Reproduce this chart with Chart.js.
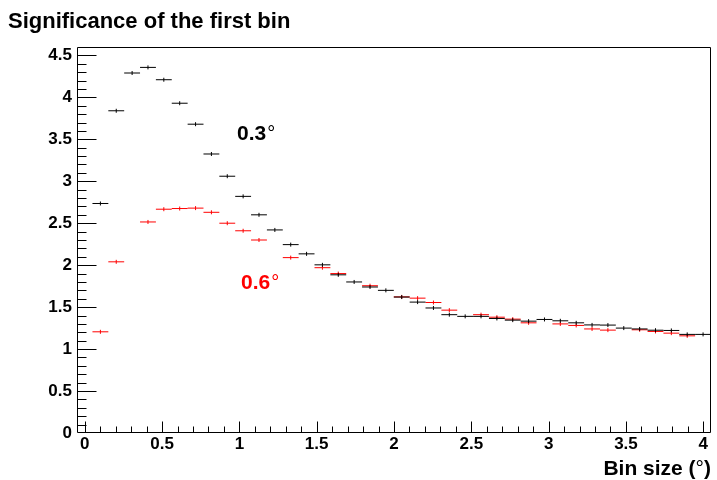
<!DOCTYPE html>
<html>
<head>
<meta charset="utf-8">
<script src="https://cdn.jsdelivr.net/npm/chart.js@4/dist/chart.umd.min.js"></script>
<style>
html,body{margin:0;padding:0;background:#fff;}
#wrap{width:717px;height:480px;position:relative;}
</style>
</head>
<body>
<div id="wrap"><canvas id="c" width="717" height="480"></canvas></div>
<script>
// Bin centres (histogram of 39 bins between 0.05 and 4.05)
const binCenters = [0.1013,0.2038,0.3064,0.4090,0.5115,0.6141,0.7167,0.8192,0.9218,1.0244,
  1.1269,1.2295,1.3321,1.4346,1.5372,1.6397,1.7423,1.8449,1.9474,2.0500,
  2.1526,2.2551,2.3577,2.4603,2.5628,2.6654,2.7679,2.8705,2.9731,3.0756,
  3.1782,3.2808,3.3833,3.4859,3.5885,3.6910,3.7936,3.8962,3.9987];
const binHalfWidth = 0.0513;

// Significance of the first bin, 0.3 deg source
const sig03 = [2.735,3.84,4.29,4.357,4.21,3.93,3.68,3.325,3.06,2.82,
  2.60,2.42,2.245,2.135,2.004,1.885,1.80,1.74,1.70,1.62,
  1.56,1.49,1.41,1.39,1.39,1.365,1.345,1.333,1.353,1.337,
  1.313,1.288,1.286,1.25,1.24,1.225,1.222,1.175,1.175];
// Significance of the first bin, 0.6 deg source (null = not visible / hidden under the 0.3 deg marker)
const sig06 = [1.206,2.04,null,2.515,2.667,2.675,2.68,2.63,2.50,2.41,
  2.30,null,2.09,null,1.97,1.90,null,1.755,null,1.622,
  1.607,1.555,1.464,null,1.41,1.38,1.357,1.313,null,1.30,
  1.282,1.24,1.226,null,1.23,1.21,1.19,1.158,null];

const xTickValues = [0,0.5,1,1.5,2,2.5,3,3.5,4];
const yTickValues = [0,0.5,1,1.5,2,2.5,3,3.5,4,4.5];

const titleText = 'Significance of the first bin';
const xTitleText = ['Bin size (', '°', ')'];
const labels = [
  {num:'0.3', color:'#000000', x:0.985, y:3.49},
  {num:'0.6', color:'#ff0000', x:1.011, y:1.714}
];

const FONT = "'Liberation Sans', Arial, Helvetica, sans-serif";

function barSegments(vals){
  const out = [];
  vals.forEach((v,i)=>{
    if (v === null) return;
    out.push({x: binCenters[i]-binHalfWidth, y: v});
    out.push({x: binCenters[i]+binHalfWidth, y: v});
    out.push({x: binCenters[i]+binHalfWidth, y: null});
  });
  return out;
}
function centerPoints(vals){
  const out = [];
  vals.forEach((v,i)=>{ if (v !== null) out.push({x: binCenters[i], y: v}); });
  return out;
}

const decor = {
  id: 'rootDecor',
  afterDraw(chart){
    const {ctx, chartArea: a, scales} = chart;
    const xs = scales.x, ys = scales.y;
    ctx.save();
    const L = Math.round(a.left)+0.5, R = Math.round(a.right)-0.5;
    const T = Math.round(a.top)+0.5, B = Math.round(a.bottom)-0.5;
    ctx.strokeStyle = '#000'; ctx.lineWidth = 1;
    ctx.beginPath();
    ctx.rect(L, T, R-L, B-T);
    ctx.stroke();
    // y ticks (inward)
    ctx.beginPath();
    for (let i=1;i<=45;i++){
      const v = i/10;
      const p = Math.round(ys.getPixelForValue(v))+0.5;
      const len = (i%5===0) ? 19 : 9;
      ctx.moveTo(L, p); ctx.lineTo(L+len, p);
    }
    // x ticks (inward)
    for (let i=0;i<=40;i++){
      const v = i/10;
      const p = Math.round(xs.getPixelForValue(v))+0.5;
      const len = (i%5===0) ? 11 : 6;
      ctx.moveTo(p, B); ctx.lineTo(p, B-len);
    }
    ctx.stroke();

    // title
    ctx.fillStyle = '#000';
    ctx.textBaseline = 'alphabetic';
    ctx.textAlign = 'left';
    ctx.font = 'bold 22px ' + FONT;
    ctx.fillText(titleText, 8, 28);

    // x-axis title (right aligned)
    const fB = 'bold 21px ' + FONT, fN = '21px ' + FONT;
    ctx.font = fB; const w1 = ctx.measureText(xTitleText[0]).width;
    const w3 = ctx.measureText(xTitleText[2]).width;
    ctx.font = fN; const w2 = ctx.measureText(xTitleText[1]).width;
    let xx = 711 - (w1+w2+w3);
    ctx.font = fB; ctx.fillText(xTitleText[0], xx, 475); xx += w1;
    ctx.font = fN; ctx.fillText(xTitleText[1], xx, 475); xx += w2;
    ctx.font = fB; ctx.fillText(xTitleText[2], xx, 475);

    // series labels
    labels.forEach(l=>{
      const px = xs.getPixelForValue(l.x), py = ys.getPixelForValue(l.y);
      ctx.fillStyle = l.color;
      ctx.font = 'bold 21px ' + FONT;
      ctx.fillText(l.num, px, py);
      const w = ctx.measureText(l.num).width;
      ctx.font = '20px ' + FONT;
      ctx.fillText('°', px + w + 1, py);
    });
    ctx.restore();
  }
};

new Chart(document.getElementById('c'), {
  type: 'line',
  data: {
    datasets: [
      { data: barSegments(sig03), borderColor:'#000000', borderWidth:1, pointRadius:0, spanGaps:false, fill:false, tension:0 },
      { type:'scatter', data: centerPoints(sig03), borderColor:'#000000', backgroundColor:'#000000', pointStyle:'line', rotation:90, pointRadius:2, borderWidth:1, showLine:false },
      { data: barSegments(sig06), borderColor:'#ff0000', borderWidth:1, pointRadius:0, spanGaps:false, fill:false, tension:0 },
      { type:'scatter', data: centerPoints(sig06), borderColor:'#ff0000', backgroundColor:'#ff0000', pointStyle:'line', rotation:90, pointRadius:2, borderWidth:1, showLine:false }
    ]
  },
  options: {
    responsive: false,
    devicePixelRatio: 1,
    animation: false,
    layout: { padding: { top: 47, right: 6, left: 0, bottom: 0 } },
    plugins: { legend: {display:false}, tooltip: {enabled:false}, title: {display:false} },
    scales: {
      x: {
        type: 'linear', min: -0.05, max: 4.05,
        grid: { display:false, drawTicks:false, tickLength:0 }, border: { display:false },
        afterBuildTicks: s => { s.ticks = xTickValues.map(v=>({value:v})); },
        afterFit: s => { s.height = 47; },
        ticks: { color:'#000', autoSkip:false, maxRotation:0, padding:1,
          font: { family: FONT, weight:'bold', size:17 },
          callback: v => String(Math.round(v*10)/10) }
      },
      y: {
        type: 'linear', min: 0, max: 4.6,
        grid: { display:false, drawTicks:false, tickLength:0 }, border: { display:false },
        afterBuildTicks: s => { s.ticks = yTickValues.map(v=>({value:v})); },
        afterFit: s => { s.width = 77; },
        ticks: { color:'#000', autoSkip:false, padding:5,
          font: { family: FONT, weight:'bold', size:17 },
          callback: v => String(Math.round(v*10)/10) }
      }
    }
  },
  plugins: [decor]
});
</script>
</body>
</html>
